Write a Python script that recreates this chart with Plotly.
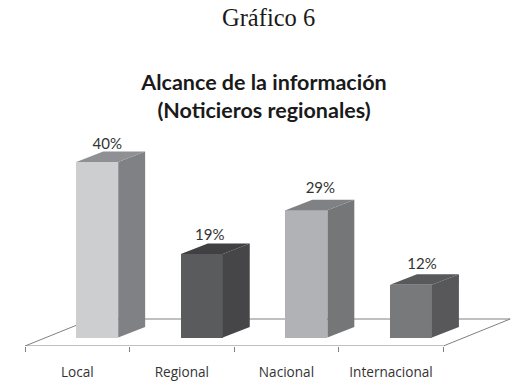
import plotly.graph_objects as go

categories = ["Local", "Regional", "Nacional", "Internacional"]
values = [40, 19, 29, 12]
labels = ["40%", "19%", "29%", "12%"]
front_colors = ["#CDCED0", "#5A5B5D", "#B1B2B5", "#78797B"]
side_colors = ["#808184", "#464648", "#757678", "#58585A"]
top_colors = ["#8F9093", "#404042", "#808184", "#58595B"]
label_nudge_x = [10, 8, 14, 11]
label_nudge_y = [17, 18, 21, 20]

PX_X = 104.8
PX_Y = 4.39
bar_offset = 20 / PX_X
bar_width = 42 / PX_X
depth_x = 27 / PX_X
depth_y = 10.5 / PX_Y
floor_dx = 67 / PX_X
floor_dy = 27 / PX_Y
y_low = -8.5 / PX_Y
y_high = 217.5 / PX_Y
x_low = -0.5
x_high = x_low + 487 / PX_X
idx = list(range(len(categories)))

fig = go.Figure()

fig.add_bar(
    x=[i + bar_offset for i in idx], y=values, width=bar_width,
    marker=dict(color=front_colors, line=dict(width=0)),
    showlegend=False, hoverinfo="skip",
)

for i, v in zip(idx, values):
    x0 = i + bar_offset - bar_width / 2
    x1 = x0 + bar_width
    fig.add_scatter(
        x=[x1, x1 + depth_x, x1 + depth_x, x1, x1], y=[0, depth_y, v + depth_y, v, 0],
        mode="lines", fill="toself", fillcolor=side_colors[i],
        line=dict(width=0), showlegend=False, hoverinfo="skip",
    )
    fig.add_scatter(
        x=[x0, x1, x1 + depth_x, x0 + depth_x, x0], y=[v, v, v + depth_y, v + depth_y, v],
        mode="lines", fill="toself", fillcolor=top_colors[i],
        line=dict(width=0), showlegend=False, hoverinfo="skip",
    )

fig.add_scatter(
    x=[i + bar_offset + label_nudge_x[i] / PX_X for i in idx],
    y=[v + label_nudge_y[i] / PX_Y for i, v in zip(idx, values)],
    mode="text", text=labels, textposition="middle center",
    textfont=dict(family="Lato", size=15, color="#333333"),
    showlegend=False, hoverinfo="skip", cliponaxis=False,
)

x_right = x_low + (len(categories)) * 1.0
floor_path = (
    f"M {x_low} {y_low} L {x_right} {y_low} L {x_right + floor_dx} {y_low + floor_dy} "
    f"L {x_low + floor_dx} {y_low + floor_dy} Z"
)
fig.add_shape(
    type="path", path=floor_path, xref="x", yref="y", layer="below",
    line=dict(color="#808080", width=1), fillcolor="white",
)

fig.add_annotation(
    text="Gráfico 6", xref="paper", yref="paper", x=(268 - 24.5) / 487, y=(346 - 18) / 226,
    showarrow=False, yanchor="middle", xanchor="center",
    font=dict(family="Liberation Serif", size=24.5, color="#1a1a1a"),
)

fig.update_layout(
    width=524, height=391,
    margin=dict(l=24.5, r=12.5, t=120, b=45, autoexpand=False),
    plot_bgcolor="white", paper_bgcolor="white",
    bargap=0,
    title=dict(
        text="<b>Alcance de la información<br>(Noticieros regionales)</b>",
        x=264 / 524, xanchor="center", xref="container",
        y=1 - 90 / 391, yanchor="middle", yref="container",
        font=dict(family="Lato", size=21.5, color="#1a1a1a"),
    ),
    xaxis=dict(
        range=[x_low, x_high], tickmode="array", tickvals=idx, ticktext=categories,
        ticks="", showgrid=False, zeroline=False, showline=False,
        ticklabelstandoff=16,
        tickfont=dict(family="Open Sans", size=13.6, color="#333333"),
        minor=dict(tickmode="array", tickvals=[x_low + k for k in range(len(categories) + 1)],
                   ticks="outside", ticklen=5, tickcolor="#808080", tickwidth=1, showgrid=False),
    ),
    yaxis=dict(range=[y_low, y_high], visible=False),
)

fig.write_html(
    "out.html",
    config={"displayModeBar": False},
    post_script="document.body.style.margin='0';window.dispatchEvent(new Event('resize'));",
)
